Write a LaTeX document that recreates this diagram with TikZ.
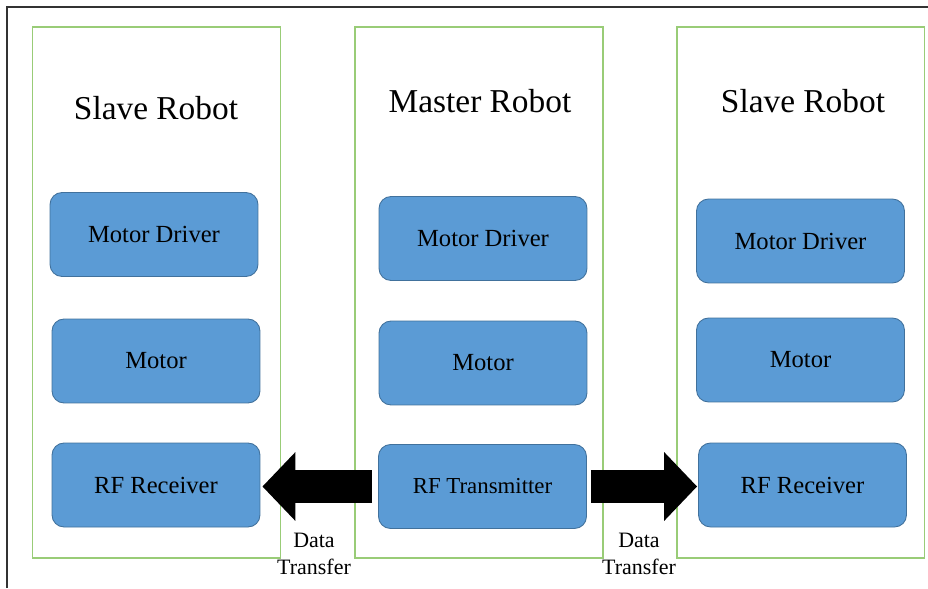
\documentclass[tikz,border=0pt]{standalone}
\usepackage{fontspec}
\setmainfont{Liberation Serif}
\usetikzlibrary{arrows.meta}
\definecolor{robotgreen}{RGB}{153,204,119}
\definecolor{partblue}{RGB}{91,155,213}
\definecolor{partedge}{RGB}{65,113,156}
\tikzset{
  robotbox/.style={draw=robotgreen, line width=1.1pt, minimum width=4.96cm, minimum height=10.62cm},
  robottitle/.style={font=\fontsize{19}{23}\selectfont},
  partbox/.style={draw=partedge, line width=0.5pt, fill=partblue, rounded corners=0.24cm,
    minimum width=4.16cm, minimum height=1.68cm, font=\fontsize{14}{17}\selectfont},
  datalabel/.style={align=center, font=\fontsize{12.5}{15.3}\selectfont},
  bigarrow/.style={line width=0.66cm, -{Triangle[length=0.66cm, width=1.34cm]}}
}
\begin{document}
\begin{tikzpicture}[x=0.02cm, y=-0.02cm]
    \useasboundingbox (0,0) rectangle (928,588);
    \draw[line width=0.6pt, black!80] (7,588) -- (7,7) -- (928,7);

    % robots
    \node[robotbox] (slaveL) at (156.5,292.5) {};
    \node[robotbox] (master) at (479,292.5) {};
    \node[robotbox] (slaveR) at (800.5,292.5) {};

    \node[robottitle] (slaveL_t) at (156,108) {Slave Robot};
    \node[robottitle] (master_t) at (480,101) {Master Robot};
    \node[robottitle] (slaveR_t) at (803,101) {Slave Robot};

    % left slave
    \node[partbox] (driverL) at (154,234.5) {Motor Driver};
    \node[partbox] (motorL) at (156,361) {Motor};
    \node[partbox] (rxL) at (156,485) {RF Receiver};

    % master
    \node[partbox] (driverM) at (483,238.5) {Motor Driver};
    \node[partbox] (motorM) at (483,363) {Motor};
    \node[partbox, font=\fontsize{13}{16}\selectfont] (tx) at (482.5,486.5) {RF Transmitter};

    % right slave
    \node[partbox] (driverR) at (800.5,241) {Motor Driver};
    \node[partbox] (motorR) at (800.5,360) {Motor};
    \node[partbox] (rxR) at (802.5,485) {RF Receiver};

    % data transfer
    \draw[bigarrow, shorten <=6*0.02cm, shorten >=2*0.02cm] (tx.west) -- (rxL.east |- tx.west);
    \draw[bigarrow, shorten <=4*0.02cm, shorten >=1*0.02cm] (tx.east) -- (rxR.west |- tx.east);

    \node[datalabel] (dataL) at (314,554) {Data\\Transfer};
    \node[datalabel] (dataR) at (639,554) {Data\\Transfer};
\end{tikzpicture}
\end{document}
